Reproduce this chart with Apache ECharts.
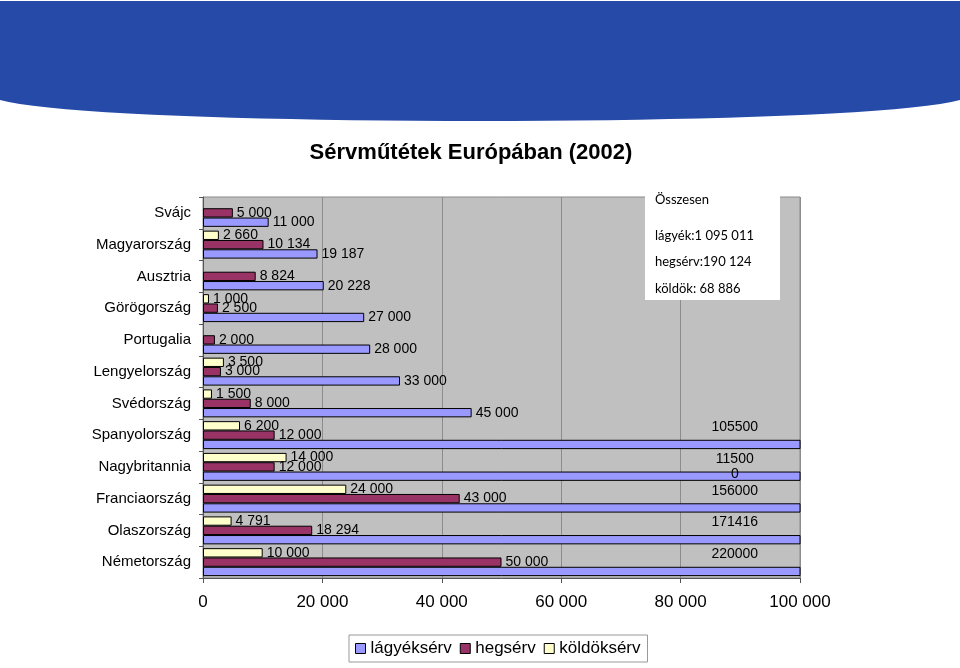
<!DOCTYPE html>
<html>
<head>
<meta charset="utf-8">
<script src="https://cdn.jsdelivr.net/npm/echarts@6/dist/echarts.min.js"></script>
<style>html,body{margin:0;padding:0;background:#fff;}#c{width:960px;height:668px;}</style>
</head>
<body>
<div id="c"></div>
<script>
// Categories, bottom to top as drawn on the y axis
const categories = ['Németország','Olaszország','Franciaország','Nagybritannia','Spanyolország','Svédország','Lengyelország','Portugalia','Görögország','Ausztria','Magyarország','Svájc'];
const lagyeksery = [220000, 171416, 156000, 115000, 105500, 45000, 33000, 28000, 27000, 20228, 19187, 11000];
const hegserv    = [50000, 18294, 43000, 12000, 12000, 8000, 3000, 2000, 2500, 8824, 10134, 5000];
const koldokserv = [10000, 4791, 24000, 14000, 6200, 1500, 3500, null, 1000, null, 2660, null];
const xTicks = [0, 20000, 40000, 60000, 80000, 100000];
const totalLines = ['Összesen', 'lágyék:1 095 011', 'hegsérv:190 124', 'köldök: 68 886'];

const xMax = 100000;
const fmt = v => String(v).replace(/\B(?=(\d{3})+(?!\d))/g, ' ');

function makeData(arr) {
  return arr.map(v => {
    if (v == null) return null;
    if (v > xMax) {
      return {
        value: v,
        label: {
          position: ['89%', -20], align: 'center', verticalAlign: 'top',
          formatter: v === 115000 ? '11500\n0' : String(v), lineHeight: 15
        }
      };
    }
    return v;
  });
}

const labelBase = {
  show: true, position: 'right', distance: 4, color: '#000',
  fontFamily: 'Liberation Sans', fontSize: 14,
  formatter: p => fmt(p.value)
};

// decorative top band outline (slide background)
const bandPts = [[0, 1], [960, 1]];
for (let i = 0; i <= 40; i++) {
  const t = i / 40, u = 1 - t;
  const x = u*u*u*960 + 3*u*u*t*860 + 3*u*t*t*100 + t*t*t*0;
  const y = u*u*u*100 + 3*u*u*t*128 + 3*u*t*t*128 + t*t*t*100;
  bandPts.push([x, y]);
}

const boxText = (txt, y) => ({
  type: 'text', x: 655, y: y, z: 101, silent: true,
  style: {text: txt, fontFamily: 'Lato', fontSize: 13, fill: '#000', verticalAlign: 'middle'}
});

const chart = echarts.init(document.getElementById('c'), null, {renderer: 'canvas'});
chart.setOption({
  backgroundColor: '#fff',
  animation: false,
  title: {
    text: 'Sérvműtétek Európában (2002)',
    left: 466, top: 137, textAlign: 'center',
    textStyle: {fontFamily: 'Liberation Sans', fontWeight: 'bold', fontSize: 22, color: '#000'}
  },
  legend: {
    data: ['lágyéksérv', 'hegsérv', 'köldöksérv'],
    left: 349, top: 635,
    icon: 'rect', itemWidth: 10, itemHeight: 10, itemGap: 8,
    backgroundColor: '#fff', borderColor: '#999', borderWidth: 1, borderRadius: 0,
    padding: [5, 7, 5, 6],
    textStyle: {fontFamily: 'Liberation Sans', fontSize: 17, color: '#000'},
    itemStyle: {borderColor: '#000', borderWidth: 1}
  },
  grid: {
    left: 203, right: 160, top: 197, bottom: 90,
    show: true, backgroundColor: '#C0C0C0', borderColor: '#8a8a8a', borderWidth: 1
  },
  xAxis: {
    type: 'value', min: 0, max: xMax, interval: 20000,
    axisLine: {show: true, lineStyle: {color: '#555', width: 1}},
    axisTick: {show: true, length: 5, lineStyle: {color: '#555'}},
    axisLabel: {
      margin: 16, color: '#000', fontFamily: 'Liberation Sans', fontSize: 17,
      formatter: v => xTicks.indexOf(v) >= 0 ? fmt(v) : ''
    },
    splitLine: {show: true, lineStyle: {color: '#8c8c8c', width: 1}}
  },
  yAxis: {
    type: 'category', data: categories,
    axisLine: {show: true, lineStyle: {color: '#555', width: 1}},
    axisTick: {show: true, length: 4, lineStyle: {color: '#555'}},
    axisLabel: {margin: 12, color: '#000', fontFamily: 'Liberation Sans', fontSize: 15},
    splitLine: {show: false}
  },
  series: [
    {
      name: 'köldöksérv', type: 'bar', data: makeData(koldokserv),
      barGap: '0%', barCategoryGap: '12%',
      itemStyle: {color: '#FFFFCC', borderColor: '#000', borderWidth: 1},
      label: labelBase
    },
    {
      name: 'hegsérv', type: 'bar', data: makeData(hegserv),
      barGap: '0%', barCategoryGap: '12%',
      itemStyle: {color: '#993366', borderColor: '#000', borderWidth: 1},
      label: labelBase
    },
    {
      name: 'lágyéksérv', type: 'bar', data: makeData(lagyeksery),
      barGap: '0%', barCategoryGap: '12%',
      itemStyle: {color: '#9999FF', borderColor: '#000', borderWidth: 1},
      label: labelBase
    }
  ],
  graphic: [
    {
      type: 'polygon', z: -10, silent: true,
      shape: {points: bandPts},
      style: {fill: '#254AA8'}
    },
    {type: 'rect', z: 100, silent: true, shape: {x: 645, y: 187, width: 135, height: 113}, style: {fill: '#fff'}},
    boxText(totalLines[0], 200),
    boxText(totalLines[1], 236),
    boxText(totalLines[2], 262),
    boxText(totalLines[3], 289)
  ]
});
</script>
</body>
</html>
